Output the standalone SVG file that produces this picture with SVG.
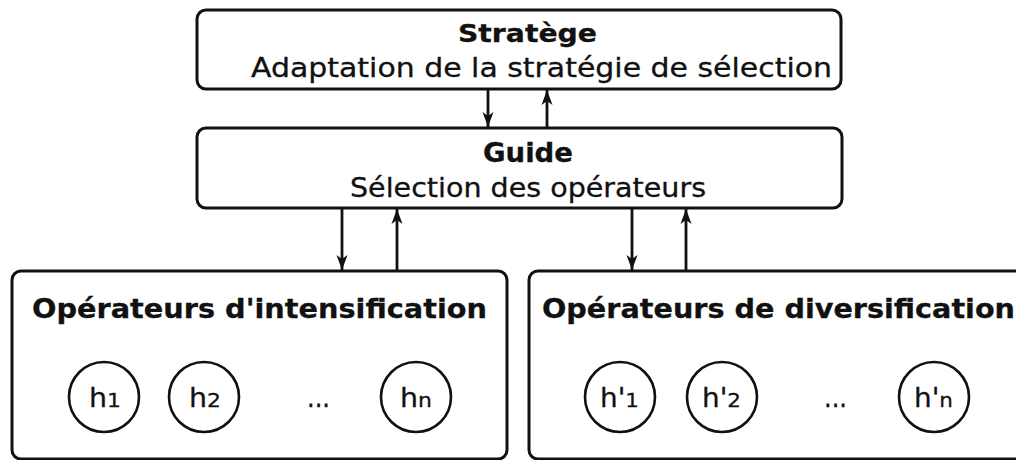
<svg xmlns="http://www.w3.org/2000/svg" width="1016" height="460" viewBox="0 0 1016 460">
<defs>
<style>
.box{fill:#fff;stroke:#111;stroke-width:3}
.circ{fill:#fff;stroke:#111;stroke-width:2.6}
.t{font-family:"DejaVu Sans",sans-serif;fill:#111;stroke:#111;stroke-width:0.3}
.b{font-weight:bold}
.conn{stroke:#111;stroke-width:2.8;fill:none;marker-end:url(#ah)}
</style>
<marker id="ah" viewBox="0 0 15 12" refX="15" refY="6" markerWidth="15" markerHeight="12" markerUnits="userSpaceOnUse" orient="auto">
<path d="M0,0.5 L15,6 L0,11.5 L4,6 Z" fill="#111"/>
</marker>
</defs>
<rect width="1016" height="460" fill="#fff"/>
<g id="strategie">
<rect class="box" x="197" y="10" width="644" height="79" rx="9"/>
<text class="t b" x="458" y="41.5" font-size="25" textLength="139" lengthAdjust="spacingAndGlyphs">Stratège</text>
<text class="t" x="251" y="77" font-size="26" textLength="581" lengthAdjust="spacingAndGlyphs">Adaptation de la stratégie de sélection</text>
</g>
<g id="guide">
<rect class="box" x="197" y="128" width="645" height="80" rx="9"/>
<text class="t b" x="483" y="162" font-size="26" textLength="90" lengthAdjust="spacingAndGlyphs">Guide</text>
<text class="t" x="350" y="197" font-size="26" textLength="356" lengthAdjust="spacingAndGlyphs">Sélection des opérateurs</text>
</g>
<g id="intensification">
<rect class="box" x="12" y="271" width="495" height="188" rx="9"/>
<text class="t b" x="32" y="318" font-size="27" textLength="455" lengthAdjust="spacingAndGlyphs">Opérateurs d'intensification</text>
<circle class="circ" cx="104" cy="397" r="35"/>
<text class="t" x="89" y="407" font-size="26" textLength="32" lengthAdjust="spacingAndGlyphs">h<tspan font-size="20">1</tspan></text>
<circle class="circ" cx="204" cy="397" r="35"/>
<text class="t" x="189" y="407" font-size="26" textLength="32" lengthAdjust="spacingAndGlyphs">h<tspan font-size="20">2</tspan></text>
<text class="t" x="307" y="407" font-size="26" textLength="23" lengthAdjust="spacingAndGlyphs">...</text>
<circle class="circ" cx="416" cy="397" r="35"/>
<text class="t" x="400" y="407" font-size="26" textLength="32" lengthAdjust="spacingAndGlyphs">h<tspan font-size="20">n</tspan></text>
</g>
<g id="diversification">
<rect class="box" x="529" y="271" width="500" height="188" rx="9"/>
<text class="t b" x="542" y="318" font-size="27" textLength="473" lengthAdjust="spacingAndGlyphs">Opérateurs de diversification</text>
<circle class="circ" cx="620" cy="397" r="35"/>
<text class="t" x="600" y="407" font-size="26" textLength="39" lengthAdjust="spacingAndGlyphs">h'<tspan font-size="20">1</tspan></text>
<circle class="circ" cx="722" cy="397" r="35"/>
<text class="t" x="702" y="407" font-size="26" textLength="39" lengthAdjust="spacingAndGlyphs">h'<tspan font-size="20">2</tspan></text>
<text class="t" x="824" y="407" font-size="26" textLength="23" lengthAdjust="spacingAndGlyphs">...</text>
<circle class="circ" cx="934" cy="397" r="35"/>
<text class="t" x="914" y="407" font-size="26" textLength="39" lengthAdjust="spacingAndGlyphs">h'<tspan font-size="20">n</tspan></text>
</g>
<g id="connectors">
<line class="conn" x1="488" y1="89" x2="488" y2="127"/>
<line class="conn" x1="547" y1="128" x2="547" y2="90"/>
<line class="conn" x1="342" y1="208" x2="342" y2="270"/>
<line class="conn" x1="397" y1="271" x2="397" y2="209"/>
<line class="conn" x1="632" y1="208" x2="632" y2="270"/>
<line class="conn" x1="686" y1="271" x2="686" y2="209"/>
</g>
</svg>
